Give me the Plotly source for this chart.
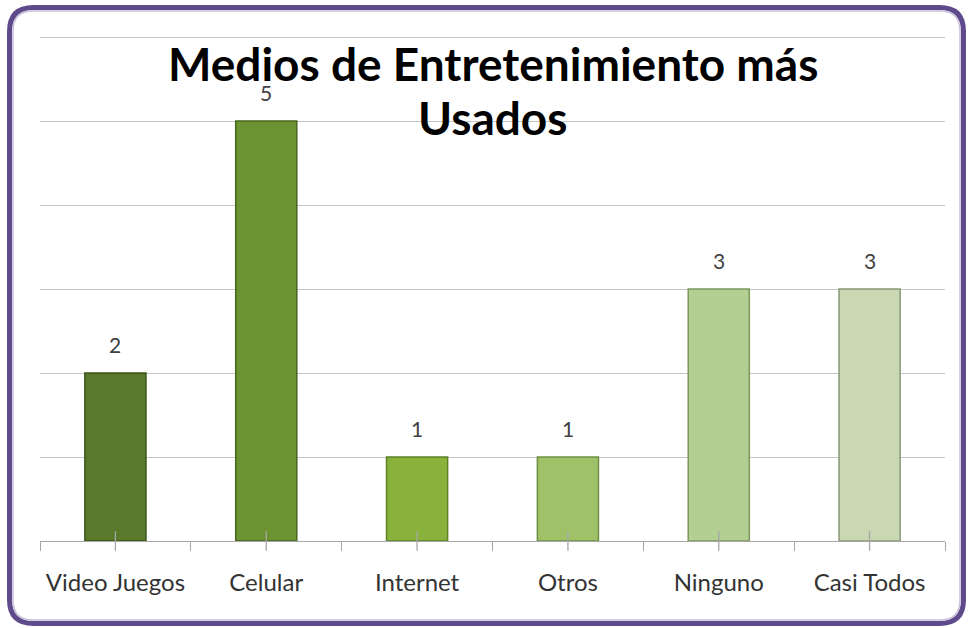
import plotly.graph_objects as go

categories = ["Video Juegos", "Celular", "Internet", "Otros", "Ninguno", "Casi Todos"]
values = [2, 5, 1, 1, 3, 3]
bar_colors = ["#587a2a", "#6c9332", "#89b23d", "#9fc268", "#b4cf92", "#c9d8b3"]
edge_colors = ["#3b5319", "#46651e", "#5c8226", "#6e9044", "#7c985e", "#889878"]
y_ticks = [0, 1, 2, 3, 4, 5, 6]
title_lines = ["Medios de Entretenimiento más", "Usados"]

W, H = 969, 628
L, R, T, B = 40, 24, 33, 87
pw, ph = W - L - R, H - T - B
unit_px = 84.0
y_top = ph / unit_px  # slightly above 6 so the top gridline is drawn

FONT = "Lato, Carlito, Calibri, sans-serif"

fig = go.Figure()
fig.add_trace(go.Bar(
    x=categories, y=values, width=0.405,
    marker=dict(color=bar_colors, line=dict(color=edge_colors, width=1.5)),
    hoverinfo="skip", showlegend=False,
))
# center tick marks crossing the axis
fig.add_trace(go.Scatter(
    x=categories, y=[0] * len(categories), mode="markers",
    marker=dict(symbol="line-ns", size=14, line=dict(color="#a6a6a6", width=1.3)),
    cliponaxis=False, hoverinfo="skip", showlegend=False,
))

for c, v in zip(categories, values):
    fig.add_annotation(x=c, y=v, text=str(v), showarrow=False, yanchor="bottom",
                       yshift=14, font=dict(family=FONT, size=21, color="#404040"))


def px(xp):
    return (xp - L) / pw


def py(yp):
    return (H - B - yp) / ph


# title lines (pixel rows converted to paper)
for line, yc in zip(title_lines, [63, 117]):
    fig.add_annotation(xref="paper", yref="paper", x=0.5, y=py(yc), text=f"<b>{line}</b>",
                       showarrow=False, xanchor="center", yanchor="middle",
                       font=dict(family=FONT, size=46, color="#000000"))


def rounded(x0, y0, x1, y1, r):
    return (f"M {px(x0 + r)},{py(y0)} L {px(x1 - r)},{py(y0)} "
            f"Q {px(x1)},{py(y0)} {px(x1)},{py(y0 + r)} L {px(x1)},{py(y1 - r)} "
            f"Q {px(x1)},{py(y1)} {px(x1 - r)},{py(y1)} L {px(x0 + r)},{py(y1)} "
            f"Q {px(x0)},{py(y1)} {px(x0)},{py(y1 - r)} L {px(x0)},{py(y0 + r)} "
            f"Q {px(x0)},{py(y0)} {px(x0 + r)},{py(y0)} Z")


fig.add_shape(type="path", xref="paper", yref="paper", path=rounded(9.5, 7.5, 963.5, 623.5, 24),
              line=dict(color="#5f4b8b", width=5), layer="below")
fig.add_shape(type="path", xref="paper", yref="paper", path=rounded(13, 11, 960, 620, 20),
              line=dict(color="#c9c0db", width=1.5), layer="below")

fig.update_layout(
    width=W, height=H,
    margin=dict(l=L, r=R, t=T, b=B),
    paper_bgcolor="white", plot_bgcolor="white",
    xaxis=dict(
        showline=True, linecolor="#a6a6a6", linewidth=1.3,
        ticks="outside", tickson="boundaries", ticklen=9, tickcolor="#a6a6a6", tickwidth=1.3,
        ticklabelstandoff=20,
        tickfont=dict(family=FONT, size=24, color="#333333"),
        showgrid=False, fixedrange=True,
    ),
    yaxis=dict(
        range=[0, y_top], tickvals=y_ticks, showticklabels=False,
        showgrid=True, gridcolor="#c4c4c4", gridwidth=1.3,
        zeroline=False, showline=False, ticks="", fixedrange=True,
    ),
)

fig.write_html("out.html", config={"displayModeBar": False},
               post_script="document.body.style.margin='0';")
